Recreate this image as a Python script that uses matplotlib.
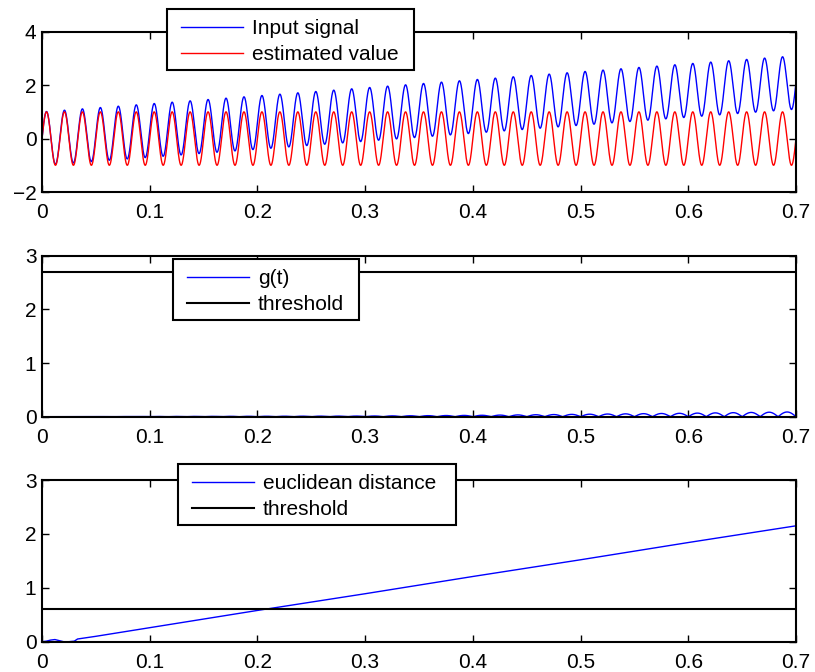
import numpy as np
import matplotlib
matplotlib.use("Agg")
import matplotlib.pyplot as plt
from matplotlib.patches import Rectangle

plt.rcParams['font.family'] = ['Liberation Sans', 'DejaVu Sans']

# ---- data ----
t_end = 0.7
signal_freq_hz = 60.0          # ~42 cycles over 0.7 s
estimate_amplitude = 1.0
input_trend_t = [0.0, 0.7]
input_trend_v = [0.0, 2.1]     # blue centre line rises from 0 to ~2.1

g_peak_t = [0.0, 0.3, 0.4, 0.5, 0.6, 0.7]
g_peak_v = [0.0, 0.012, 0.025, 0.045, 0.065, 0.09]
g_threshold = 2.7

dist_t = [0.0, 0.004, 0.008, 0.012, 0.016, 0.02, 0.025, 0.03, 0.033, 0.05, 0.1, 0.2, 0.3, 0.4, 0.5, 0.6, 0.7]
dist_v = [0.0, 0.01, 0.03, 0.04, 0.02, 0.0, 0.0, 0.01, 0.05, 0.1, 0.26, 0.58, 0.89, 1.21, 1.52, 1.84, 2.15]
dist_threshold = 0.6

xticks = [0, 0.1, 0.2, 0.3, 0.4, 0.5, 0.6, 0.7]
xticklabels = ['0', '0.1', '0.2', '0.3', '0.4', '0.5', '0.6', '0.7']
yticks1 = [-2, 0, 2, 4]
yticks23 = [0, 1, 2, 3]

# ---- signals ----
t = np.linspace(0, t_end, 7001)
estimate = estimate_amplitude * np.sin(2 * np.pi * signal_freq_hz * t)
trend = np.interp(t, input_trend_t, input_trend_v)
input_sig = estimate + trend
g = np.interp(t, g_peak_t, g_peak_v) * np.abs(np.sin(np.pi * signal_freq_hz * t))

W, H = 815, 672
fig = plt.figure(figsize=(W / 100, H / 100), dpi=100)

def px_axes(left, top, right, bottom):
    return fig.add_axes([left / W, 1 - bottom / H, (right - left) / W, (bottom - top) / H])

ax1 = px_axes(42, 31.7, 796, 192)
ax2 = px_axes(42, 255.7, 796, 416.7)
ax3 = px_axes(42, 480, 796, 641.7)

fs = 15

def style(ax, yt, ylim):
    ax.set_xlim(0, t_end)
    ax.set_ylim(*ylim)
    ax.set_xticks(xticks)
    ax.set_xticklabels(xticklabels)
    ax.set_yticks(yt)
    ax.tick_params(direction='in', top=True, right=True, length=5, width=1.0,
                   labelsize=fs)
    ax.tick_params(axis='x', pad=8)
    ax.tick_params(axis='y', pad=4)
    for s in ax.spines.values():
        s.set_linewidth(1.5)

ax1.plot(t, input_sig, color='#0000ff', lw=1.0, label='Input signal')
ax1.plot(t, estimate, color='#ff0000', lw=1.0, label='estimated value')
style(ax1, yticks1, (-2, 4))

ax2.plot(t, g, color='#0000ff', lw=1.0, label='g(t)')
ax2.plot([0, t_end], [g_threshold, g_threshold], color='black', lw=1.5, label='threshold')
style(ax2, yticks23, (0, 3))

ax3.plot(dist_t, dist_v, color='#0000ff', lw=1.0, label='euclidean distance')
ax3.plot([0, t_end], [dist_threshold, dist_threshold], color='black', lw=1.5, label='threshold')
style(ax3, yticks23, (0, 3))

def legend(ax, left, top, right, bottom):
    box = Rectangle((left / W, 1 - bottom / H), (right - left) / W, (bottom - top) / H,
                    transform=fig.transFigure, facecolor='white', edgecolor='black',
                    linewidth=1.5, clip_on=False, zorder=9)
    ax.add_patch(box)
    lg = ax.legend(loc='upper left', bbox_to_anchor=((left + 14) / W, 1 - (top + 10) / H),
                   bbox_transform=fig.transFigure, fontsize=fs, frameon=False,
                   handlelength=2.98, handletextpad=0.43, labelspacing=0.33,
                   borderpad=0, borderaxespad=0)
    lg.set_zorder(10)
    return lg

legend(ax1, 167, 9, 414, 70)
legend(ax2, 173, 259, 359, 320)
legend(ax3, 178, 464, 456, 525)

fig.savefig('out.png', dpi=100)
